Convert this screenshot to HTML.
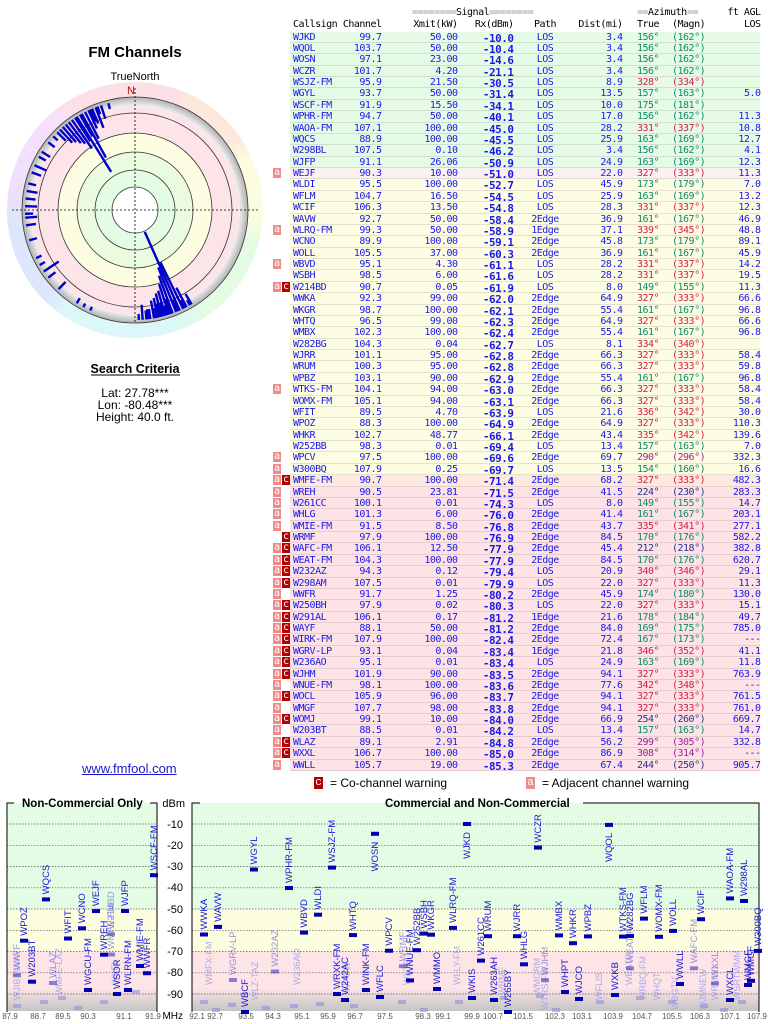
<!DOCTYPE html>
<html><head><meta charset="utf-8">
<style>
*{margin:0;padding:0;box-sizing:border-box}
body{width:768px;height:1024px;background:#fff;position:relative;overflow:hidden;font-family:"Liberation Sans",sans-serif}
.hd{position:absolute;left:290px;width:470px;height:12px;font:10px "DejaVu Sans Mono",monospace;letter-spacing:-0.5px;color:#000;line-height:12px}
.hd span,.r span{position:absolute;top:0;white-space:pre}
#tb{position:absolute;left:290px;top:31.5px;width:470px}
.r{position:relative;height:11.39px;line-height:11.39px;font:10px "DejaVu Sans Mono",monospace;letter-spacing:-0.5px;color:#1a1ae6;border-bottom:1px solid rgba(120,100,100,.18)}
.g{background:#e6fbe6}.y{background:#fdfde3}.o{background:#fde9df}.k{background:#fde3e6}.w{background:#fcf1f1}
.n{left:3px}.f{left:0;width:91.5px;text-align:right}.p{left:0;width:167.5px;text-align:right}
.x{left:0;width:223.5px;text-align:right;font-weight:bold;font-size:11px}.h{left:205px;width:100px;text-align:center}
.d{left:0;width:332.5px;text-align:right}.t{left:347px}.m{left:382px}.l{left:0;width:470.5px;text-align:right}
.G{color:#108868}.R{color:#d0204a}.P{color:#a0209a}.B{color:#303090}
.A,.C{width:8px;height:10px;top:0;color:#fff;text-align:center;line-height:10px;letter-spacing:0;font-size:10px}
.A{left:-17px;background:#f08a8a}.C{left:-8px;background:#b40000}
.gr{color:#999}
</style></head><body>

<div style="position:absolute;left:7px;top:82px;width:256px;height:256px;border-radius:50%;background:conic-gradient(#fde0e6 0deg,#fde0e6 20deg,#fde9dc 25deg,#fde9dc 55deg,#fcfce0 65deg,#fcfce0 95deg,#e4fce4 105deg,#e4fce4 145deg,#ddf8f0 155deg,#dcf6fa 165deg,#dcf6fa 215deg,#dde6fc 225deg,#dde6fc 265deg,#ece0fc 275deg,#f6e0fc 315deg,#fde0e6 335deg)"></div>

<svg style="position:absolute;left:0;top:0" width="290" height="440">
<text x="135" y="57" text-anchor="middle" font-family="Liberation Sans" font-weight="bold" font-size="15">FM Channels</text>
<text x="135" y="80" text-anchor="middle" font-family="Liberation Sans" font-size="11">TrueNorth</text>
<text x="127" y="94" font-family="Liberation Sans" font-size="11" fill="#d00000">N</text>
<defs><radialGradient id="rg" cx="135" cy="210" r="113" gradientUnits="userSpaceOnUse"><stop offset="0.92" stop-color="#f2f2f2"/><stop offset="1" stop-color="#b0b0b0"/></radialGradient></defs>
<circle cx="135" cy="210" r="113" fill="url(#rg)"/>
<circle cx="135" cy="210" r="104" fill="#fde4e8"/>
<circle cx="135" cy="210" r="77" fill="#fdfde2"/>
<circle cx="135" cy="210" r="58" fill="#eafbe0"/>
<circle cx="135" cy="210" r="40" fill="#e4fce4"/>
<circle cx="135" cy="210" r="23" fill="#fff"/>
<g fill="none" stroke="#333" stroke-width="0.8">
<circle cx="135" cy="210" r="23"/><circle cx="135" cy="210" r="40"/><circle cx="135" cy="210" r="58"/><circle cx="135" cy="210" r="77"/><circle cx="135" cy="210" r="97"/><circle cx="135" cy="210" r="113"/>
</g>
<g stroke="#000" stroke-width="0.8" stroke-dasharray="2,2">
<line x1="12" y1="210" x2="258" y2="210"/><line x1="135" y1="88" x2="135" y2="322"/>
</g>
<g transform="translate(135 210)" stroke="#0000c8" stroke-width="2.4">
<line y1="-110" y2="-24" transform="rotate(156)"/>
<line y1="-110" y2="-62" transform="rotate(158)"/>
<line y1="-110" y2="-70" transform="rotate(160)"/>
<line y1="-110" y2="-78" transform="rotate(162)"/>
<line y1="-110" y2="-45" transform="rotate(328)"/>
<line y1="-110" y2="-84" transform="rotate(164)"/>
<line y1="-110" y2="-95" transform="rotate(176)"/>
<line y1="-110" y2="-58" transform="rotate(154)"/>
<line y1="-110" y2="-60" transform="rotate(331)"/>
<line y1="-110" y2="-86" transform="rotate(166)"/>
<line y1="-110" y2="-88" transform="rotate(152)"/>
<line y1="-110" y2="-90" transform="rotate(168)"/>
<line y1="-110" y2="-75" transform="rotate(325)"/>
<line y1="-110" y2="-100" transform="rotate(173)"/>
<line y1="-110" y2="-92" transform="rotate(170)"/>
<line y1="-110" y2="-80" transform="rotate(333)"/>
<line y1="-110" y2="-94" transform="rotate(161)"/>
<line y1="-110" y2="-88" transform="rotate(339)"/>
<line y1="-110" y2="-100" transform="rotate(172)"/>
<line y1="-110" y2="-96" transform="rotate(165)"/>
<line y1="-110" y2="-85" transform="rotate(330)"/>
<line y1="-110" y2="-90" transform="rotate(335)"/>
<line y1="-110" y2="-98" transform="rotate(149)"/>
<line y1="-110" y2="-82" transform="rotate(327)"/>
<line y1="-110" y2="-96" transform="rotate(167)"/>
<line y1="-110" y2="-83" transform="rotate(323)"/>
<line y1="-110" y2="-100" transform="rotate(169)"/>
<line y1="-110" y2="-94" transform="rotate(337)"/>
<line y1="-110" y2="-86" transform="rotate(321)"/>
<line y1="-110" y2="-90" transform="rotate(319)"/>
<line y1="-110" y2="-96" transform="rotate(342)"/>
<line y1="-110" y2="-92" transform="rotate(317)"/>
<line y1="-110" y2="-97" transform="rotate(336)"/>
<line y1="-110" y2="-98" transform="rotate(157)"/>
<line y1="-110" y2="-100" transform="rotate(290)"/>
<line y1="-110" y2="-101" transform="rotate(153)"/>
<line y1="-110" y2="-98" transform="rotate(315)"/>
<line y1="-110" y2="-100" transform="rotate(224)"/>
<line y1="-110" y2="-104" transform="rotate(150)"/>
<line y1="-110" y2="-100" transform="rotate(163)"/>
<line y1="-110" y2="-101" transform="rotate(174)"/>
<line y1="-110" y2="-104" transform="rotate(212)"/>
<line y1="-110" y2="-102" transform="rotate(340)"/>
<line y1="-110" y2="-104" transform="rotate(178)"/>
<line y1="-110" y2="-104" transform="rotate(346)"/>
<line y1="-110" y2="-102" transform="rotate(254)"/>
<line y1="-110" y2="-102" transform="rotate(299)"/>
<line y1="-110" y2="-102" transform="rotate(308)"/>
<line y1="-110" y2="-104" transform="rotate(244)"/>
<line y1="-110" y2="-100" transform="rotate(262)"/>
<line y1="-110" y2="-98" transform="rotate(266)"/>
<line y1="-110" y2="-102" transform="rotate(268)"/>
<line y1="-110" y2="-98" transform="rotate(272)"/>
<line y1="-110" y2="-100" transform="rotate(276)"/>
<line y1="-110" y2="-99" transform="rotate(280)"/>
<line y1="-110" y2="-102" transform="rotate(284)"/>
<line y1="-110" y2="-97" transform="rotate(294)"/>
<line y1="-110" y2="-100" transform="rotate(302)"/>
<line y1="-110" y2="-104" transform="rotate(312)"/>
<line y1="-110" y2="-92" transform="rotate(236)"/>
<line y1="-110" y2="-101" transform="rotate(232)"/>
<line y1="-110" y2="-104" transform="rotate(240)"/>
<line y1="-110" y2="-106" transform="rotate(208)"/>
<line y1="-110" y2="-106" transform="rotate(204)"/>
</g>
<text x="135" y="373" text-anchor="middle" font-family="Liberation Sans" font-weight="bold" font-size="12.5">Search Criteria</text>
<line x1="91" y1="375" x2="180" y2="375" stroke="#000" stroke-width="1"/>
<g font-family="Liberation Sans" font-size="12" text-anchor="middle">
<text x="135" y="397">Lat: 27.78***</text>
<text x="135" y="409">Lon: -80.48***</text>
<text x="135" y="421">Height: 40.0 ft.</text>
</g>
</svg>

<div style="position:absolute;left:82px;top:761px;font-size:13px;color:#1a1acc;text-decoration:underline">www.fmfool.com</div>

<div class="hd" style="top:7px"><span class="gr" style="left:122px">========</span><span style="left:166px">Signal</span><span class="gr" style="left:199px">========</span><span class="gr" style="left:347px">==</span><span style="left:358px">Azimuth</span><span class="gr" style="left:397px">==</span><span class="l">ft AGL</span></div>
<div class="hd" style="top:19px"><span class="n">Callsign</span><span class="f">Channel</span><span class="p">Xmit(kW)</span><span class="x" style="font-weight:normal;font-size:10px">Rx(dBm)</span><span class="h">Path</span><span class="d">Dist(mi)</span><span class="t">True</span><span class="m">(Magn)</span><span class="l">LOS</span></div>

<div id="tb">
<div class="r g"><span class="n">WJKD</span><span class="f">99.7</span><span class="p">50.00</span><span class="x">-10.0</span><span class="h">LOS</span><span class="d">3.4</span><span class="t G">156°</span><span class="m G">(162°)</span></div>
<div class="r g"><span class="n">WQOL</span><span class="f">103.7</span><span class="p">50.00</span><span class="x">-10.4</span><span class="h">LOS</span><span class="d">3.4</span><span class="t G">156°</span><span class="m G">(162°)</span></div>
<div class="r g"><span class="n">WOSN</span><span class="f">97.1</span><span class="p">23.00</span><span class="x">-14.6</span><span class="h">LOS</span><span class="d">3.4</span><span class="t G">156°</span><span class="m G">(162°)</span></div>
<div class="r g"><span class="n">WCZR</span><span class="f">101.7</span><span class="p">4.20</span><span class="x">-21.1</span><span class="h">LOS</span><span class="d">3.4</span><span class="t G">156°</span><span class="m G">(162°)</span></div>
<div class="r g"><span class="n">WSJZ-FM</span><span class="f">95.9</span><span class="p">21.50</span><span class="x">-30.5</span><span class="h">LOS</span><span class="d">8.9</span><span class="t R">328°</span><span class="m R">(334°)</span></div>
<div class="r g"><span class="n">WGYL</span><span class="f">93.7</span><span class="p">50.00</span><span class="x">-31.4</span><span class="h">LOS</span><span class="d">13.5</span><span class="t G">157°</span><span class="m G">(163°)</span><span class="l">5.0</span></div>
<div class="r g"><span class="n">WSCF-FM</span><span class="f">91.9</span><span class="p">15.50</span><span class="x">-34.1</span><span class="h">LOS</span><span class="d">10.0</span><span class="t G">175°</span><span class="m G">(181°)</span></div>
<div class="r g"><span class="n">WPHR-FM</span><span class="f">94.7</span><span class="p">50.00</span><span class="x">-40.1</span><span class="h">LOS</span><span class="d">17.0</span><span class="t G">156°</span><span class="m G">(162°)</span><span class="l">11.3</span></div>
<div class="r g"><span class="n">WAOA-FM</span><span class="f">107.1</span><span class="p">100.00</span><span class="x">-45.0</span><span class="h">LOS</span><span class="d">28.2</span><span class="t R">331°</span><span class="m R">(337°)</span><span class="l">10.8</span></div>
<div class="r g"><span class="n">WQCS</span><span class="f">88.9</span><span class="p">100.00</span><span class="x">-45.5</span><span class="h">LOS</span><span class="d">25.9</span><span class="t G">163°</span><span class="m G">(169°)</span><span class="l">12.7</span></div>
<div class="r g"><span class="n">W298BL</span><span class="f">107.5</span><span class="p">0.10</span><span class="x">-46.2</span><span class="h">LOS</span><span class="d">3.4</span><span class="t G">156°</span><span class="m G">(162°)</span><span class="l">4.1</span></div>
<div class="r g"><span class="n">WJFP</span><span class="f">91.1</span><span class="p">26.06</span><span class="x">-50.9</span><span class="h">LOS</span><span class="d">24.9</span><span class="t G">163°</span><span class="m G">(169°)</span><span class="l">12.3</span></div>
<div class="r w"><span class="A">a</span><span class="n">WEJF</span><span class="f">90.3</span><span class="p">10.00</span><span class="x">-51.0</span><span class="h">LOS</span><span class="d">22.0</span><span class="t R">327°</span><span class="m R">(333°)</span><span class="l">11.3</span></div>
<div class="r y"><span class="n">WLDI</span><span class="f">95.5</span><span class="p">100.00</span><span class="x">-52.7</span><span class="h">LOS</span><span class="d">45.9</span><span class="t G">173°</span><span class="m G">(179°)</span><span class="l">7.0</span></div>
<div class="r y"><span class="n">WFLM</span><span class="f">104.7</span><span class="p">16.50</span><span class="x">-54.5</span><span class="h">LOS</span><span class="d">25.9</span><span class="t G">163°</span><span class="m G">(169°)</span><span class="l">13.2</span></div>
<div class="r y"><span class="n">WCIF</span><span class="f">106.3</span><span class="p">13.50</span><span class="x">-54.8</span><span class="h">LOS</span><span class="d">28.3</span><span class="t R">331°</span><span class="m R">(337°)</span><span class="l">12.3</span></div>
<div class="r y"><span class="n">WAVW</span><span class="f">92.7</span><span class="p">50.00</span><span class="x">-58.4</span><span class="h">2Edge</span><span class="d">36.9</span><span class="t G">161°</span><span class="m G">(167°)</span><span class="l">46.9</span></div>
<div class="r y"><span class="A">a</span><span class="n">WLRQ-FM</span><span class="f">99.3</span><span class="p">50.00</span><span class="x">-58.9</span><span class="h">1Edge</span><span class="d">37.1</span><span class="t R">339°</span><span class="m R">(345°)</span><span class="l">48.8</span></div>
<div class="r y"><span class="n">WCNO</span><span class="f">89.9</span><span class="p">100.00</span><span class="x">-59.1</span><span class="h">2Edge</span><span class="d">45.8</span><span class="t G">173°</span><span class="m G">(179°)</span><span class="l">89.1</span></div>
<div class="r y"><span class="n">WOLL</span><span class="f">105.5</span><span class="p">37.00</span><span class="x">-60.3</span><span class="h">2Edge</span><span class="d">36.9</span><span class="t G">161°</span><span class="m G">(167°)</span><span class="l">45.9</span></div>
<div class="r y"><span class="A">a</span><span class="n">WBVD</span><span class="f">95.1</span><span class="p">4.30</span><span class="x">-61.1</span><span class="h">LOS</span><span class="d">28.2</span><span class="t R">331°</span><span class="m R">(337°)</span><span class="l">14.2</span></div>
<div class="r y"><span class="n">WSBH</span><span class="f">98.5</span><span class="p">6.00</span><span class="x">-61.6</span><span class="h">LOS</span><span class="d">28.2</span><span class="t R">331°</span><span class="m R">(337°)</span><span class="l">19.5</span></div>
<div class="r y"><span class="A">a</span><span class="C">c</span><span class="n">W214BD</span><span class="f">90.7</span><span class="p">0.05</span><span class="x">-61.9</span><span class="h">LOS</span><span class="d">8.0</span><span class="t G">149°</span><span class="m G">(155°)</span><span class="l">11.3</span></div>
<div class="r y"><span class="n">WWKA</span><span class="f">92.3</span><span class="p">99.00</span><span class="x">-62.0</span><span class="h">2Edge</span><span class="d">64.9</span><span class="t R">327°</span><span class="m R">(333°)</span><span class="l">66.6</span></div>
<div class="r y"><span class="n">WKGR</span><span class="f">98.7</span><span class="p">100.00</span><span class="x">-62.1</span><span class="h">2Edge</span><span class="d">55.4</span><span class="t G">161°</span><span class="m G">(167°)</span><span class="l">96.8</span></div>
<div class="r y"><span class="n">WHTQ</span><span class="f">96.5</span><span class="p">99.00</span><span class="x">-62.3</span><span class="h">2Edge</span><span class="d">64.9</span><span class="t R">327°</span><span class="m R">(333°)</span><span class="l">66.6</span></div>
<div class="r y"><span class="n">WMBX</span><span class="f">102.3</span><span class="p">100.00</span><span class="x">-62.4</span><span class="h">2Edge</span><span class="d">55.4</span><span class="t G">161°</span><span class="m G">(167°)</span><span class="l">96.8</span></div>
<div class="r y"><span class="n">W282BG</span><span class="f">104.3</span><span class="p">0.04</span><span class="x">-62.7</span><span class="h">LOS</span><span class="d">8.1</span><span class="t R">334°</span><span class="m R">(340°)</span></div>
<div class="r y"><span class="n">WJRR</span><span class="f">101.1</span><span class="p">95.00</span><span class="x">-62.8</span><span class="h">2Edge</span><span class="d">66.3</span><span class="t R">327°</span><span class="m R">(333°)</span><span class="l">58.4</span></div>
<div class="r y"><span class="n">WRUM</span><span class="f">100.3</span><span class="p">95.00</span><span class="x">-62.8</span><span class="h">2Edge</span><span class="d">66.3</span><span class="t R">327°</span><span class="m R">(333°)</span><span class="l">59.8</span></div>
<div class="r y"><span class="n">WPBZ</span><span class="f">103.1</span><span class="p">90.00</span><span class="x">-62.9</span><span class="h">2Edge</span><span class="d">55.4</span><span class="t G">161°</span><span class="m G">(167°)</span><span class="l">96.8</span></div>
<div class="r y"><span class="A">a</span><span class="n">WTKS-FM</span><span class="f">104.1</span><span class="p">94.00</span><span class="x">-63.0</span><span class="h">2Edge</span><span class="d">66.3</span><span class="t R">327°</span><span class="m R">(333°)</span><span class="l">58.4</span></div>
<div class="r y"><span class="n">WOMX-FM</span><span class="f">105.1</span><span class="p">94.00</span><span class="x">-63.1</span><span class="h">2Edge</span><span class="d">66.3</span><span class="t R">327°</span><span class="m R">(333°)</span><span class="l">58.4</span></div>
<div class="r y"><span class="n">WFIT</span><span class="f">89.5</span><span class="p">4.70</span><span class="x">-63.9</span><span class="h">LOS</span><span class="d">21.6</span><span class="t R">336°</span><span class="m R">(342°)</span><span class="l">30.0</span></div>
<div class="r y"><span class="n">WPOZ</span><span class="f">88.3</span><span class="p">100.00</span><span class="x">-64.9</span><span class="h">2Edge</span><span class="d">64.9</span><span class="t R">327°</span><span class="m R">(333°)</span><span class="l">110.3</span></div>
<div class="r y"><span class="n">WHKR</span><span class="f">102.7</span><span class="p">48.77</span><span class="x">-66.1</span><span class="h">2Edge</span><span class="d">43.4</span><span class="t R">335°</span><span class="m R">(342°)</span><span class="l">139.6</span></div>
<div class="r y"><span class="n">W252BB</span><span class="f">98.3</span><span class="p">0.01</span><span class="x">-69.4</span><span class="h">LOS</span><span class="d">13.4</span><span class="t G">157°</span><span class="m G">(163°)</span><span class="l">7.0</span></div>
<div class="r y"><span class="A">a</span><span class="n">WPCV</span><span class="f">97.5</span><span class="p">100.00</span><span class="x">-69.6</span><span class="h">2Edge</span><span class="d">69.7</span><span class="t P">290°</span><span class="m P">(296°)</span><span class="l">332.3</span></div>
<div class="r y"><span class="A">a</span><span class="n">W300BQ</span><span class="f">107.9</span><span class="p">0.25</span><span class="x">-69.7</span><span class="h">LOS</span><span class="d">13.5</span><span class="t G">154°</span><span class="m G">(160°)</span><span class="l">16.6</span></div>
<div class="r o"><span class="A">a</span><span class="C">c</span><span class="n">WMFE-FM</span><span class="f">90.7</span><span class="p">100.00</span><span class="x">-71.4</span><span class="h">2Edge</span><span class="d">68.2</span><span class="t R">327°</span><span class="m R">(333°)</span><span class="l">482.3</span></div>
<div class="r k"><span class="A">a</span><span class="n">WREH</span><span class="f">90.5</span><span class="p">23.81</span><span class="x">-71.5</span><span class="h">2Edge</span><span class="d">41.5</span><span class="t B">224°</span><span class="m B">(230°)</span><span class="l">283.3</span></div>
<div class="r k"><span class="A">a</span><span class="n">W261CC</span><span class="f">100.1</span><span class="p">0.01</span><span class="x">-74.3</span><span class="h">LOS</span><span class="d">8.0</span><span class="t G">149°</span><span class="m G">(155°)</span><span class="l">14.7</span></div>
<div class="r k"><span class="A">a</span><span class="n">WHLG</span><span class="f">101.3</span><span class="p">6.00</span><span class="x">-76.0</span><span class="h">2Edge</span><span class="d">41.4</span><span class="t G">161°</span><span class="m G">(167°)</span><span class="l">203.1</span></div>
<div class="r k"><span class="A">a</span><span class="n">WMIE-FM</span><span class="f">91.5</span><span class="p">8.50</span><span class="x">-76.8</span><span class="h">2Edge</span><span class="d">43.7</span><span class="t R">335°</span><span class="m R">(341°)</span><span class="l">277.1</span></div>
<div class="r k"><span class="C">c</span><span class="n">WRMF</span><span class="f">97.9</span><span class="p">100.00</span><span class="x">-76.9</span><span class="h">2Edge</span><span class="d">84.5</span><span class="t G">170°</span><span class="m G">(176°)</span><span class="l">582.2</span></div>
<div class="r k"><span class="A">a</span><span class="C">c</span><span class="n">WAFC-FM</span><span class="f">106.1</span><span class="p">12.50</span><span class="x">-77.9</span><span class="h">2Edge</span><span class="d">45.4</span><span class="t B">212°</span><span class="m B">(218°)</span><span class="l">382.8</span></div>
<div class="r k"><span class="A">a</span><span class="C">c</span><span class="n">WEAT-FM</span><span class="f">104.3</span><span class="p">100.00</span><span class="x">-77.9</span><span class="h">2Edge</span><span class="d">84.5</span><span class="t G">170°</span><span class="m G">(176°)</span><span class="l">620.7</span></div>
<div class="r k"><span class="A">a</span><span class="C">c</span><span class="n">W232AZ</span><span class="f">94.3</span><span class="p">0.12</span><span class="x">-79.4</span><span class="h">LOS</span><span class="d">20.9</span><span class="t R">340°</span><span class="m R">(346°)</span><span class="l">29.1</span></div>
<div class="r k"><span class="A">a</span><span class="C">c</span><span class="n">W298AM</span><span class="f">107.5</span><span class="p">0.01</span><span class="x">-79.9</span><span class="h">LOS</span><span class="d">22.0</span><span class="t R">327°</span><span class="m R">(333°)</span><span class="l">11.3</span></div>
<div class="r k"><span class="A">a</span><span class="n">WWFR</span><span class="f">91.7</span><span class="p">1.25</span><span class="x">-80.2</span><span class="h">2Edge</span><span class="d">45.9</span><span class="t G">174°</span><span class="m G">(180°)</span><span class="l">130.0</span></div>
<div class="r k"><span class="A">a</span><span class="C">c</span><span class="n">W250BH</span><span class="f">97.9</span><span class="p">0.02</span><span class="x">-80.3</span><span class="h">LOS</span><span class="d">22.0</span><span class="t R">327°</span><span class="m R">(333°)</span><span class="l">15.1</span></div>
<div class="r k"><span class="A">a</span><span class="C">c</span><span class="n">W291AL</span><span class="f">106.1</span><span class="p">0.17</span><span class="x">-81.2</span><span class="h">1Edge</span><span class="d">21.6</span><span class="t G">178°</span><span class="m G">(184°)</span><span class="l">49.7</span></div>
<div class="r k"><span class="A">a</span><span class="C">c</span><span class="n">WAYF</span><span class="f">88.1</span><span class="p">50.00</span><span class="x">-81.2</span><span class="h">2Edge</span><span class="d">84.0</span><span class="t G">169°</span><span class="m G">(175°)</span><span class="l">785.0</span></div>
<div class="r k"><span class="A">a</span><span class="C">c</span><span class="n">WIRK-FM</span><span class="f">107.9</span><span class="p">100.00</span><span class="x">-82.4</span><span class="h">2Edge</span><span class="d">72.4</span><span class="t G">167°</span><span class="m G">(173°)</span><span class="l">---</span></div>
<div class="r k"><span class="A">a</span><span class="C">c</span><span class="n">WGRV-LP</span><span class="f">93.1</span><span class="p">0.04</span><span class="x">-83.4</span><span class="h">1Edge</span><span class="d">21.8</span><span class="t R">346°</span><span class="m R">(352°)</span><span class="l">41.1</span></div>
<div class="r k"><span class="A">a</span><span class="C">c</span><span class="n">W236AO</span><span class="f">95.1</span><span class="p">0.01</span><span class="x">-83.4</span><span class="h">LOS</span><span class="d">24.9</span><span class="t G">163°</span><span class="m G">(169°)</span><span class="l">11.8</span></div>
<div class="r k"><span class="A">a</span><span class="C">c</span><span class="n">WJHM</span><span class="f">101.9</span><span class="p">90.00</span><span class="x">-83.5</span><span class="h">2Edge</span><span class="d">94.1</span><span class="t R">327°</span><span class="m R">(333°)</span><span class="l">763.9</span></div>
<div class="r k"><span class="A">a</span><span class="n">WNUE-FM</span><span class="f">98.1</span><span class="p">100.00</span><span class="x">-83.6</span><span class="h">2Edge</span><span class="d">77.6</span><span class="t R">342°</span><span class="m R">(348°)</span><span class="l">---</span></div>
<div class="r k"><span class="A">a</span><span class="C">c</span><span class="n">WOCL</span><span class="f">105.9</span><span class="p">96.00</span><span class="x">-83.7</span><span class="h">2Edge</span><span class="d">94.1</span><span class="t R">327°</span><span class="m R">(333°)</span><span class="l">761.5</span></div>
<div class="r k"><span class="A">a</span><span class="n">WMGF</span><span class="f">107.7</span><span class="p">98.00</span><span class="x">-83.8</span><span class="h">2Edge</span><span class="d">94.1</span><span class="t R">327°</span><span class="m R">(333°)</span><span class="l">761.0</span></div>
<div class="r k"><span class="A">a</span><span class="C">c</span><span class="n">WOMJ</span><span class="f">99.1</span><span class="p">10.00</span><span class="x">-84.0</span><span class="h">2Edge</span><span class="d">66.9</span><span class="t B">254°</span><span class="m B">(260°)</span><span class="l">669.7</span></div>
<div class="r k"><span class="A">a</span><span class="n">W203BT</span><span class="f">88.5</span><span class="p">0.01</span><span class="x">-84.2</span><span class="h">LOS</span><span class="d">13.4</span><span class="t G">157°</span><span class="m G">(163°)</span><span class="l">14.7</span></div>
<div class="r k"><span class="A">a</span><span class="C">c</span><span class="n">WLAZ</span><span class="f">89.1</span><span class="p">2.91</span><span class="x">-84.8</span><span class="h">2Edge</span><span class="d">56.2</span><span class="t P">299°</span><span class="m P">(305°)</span><span class="l">332.8</span></div>
<div class="r k"><span class="A">a</span><span class="C">c</span><span class="n">WXXL</span><span class="f">106.7</span><span class="p">100.00</span><span class="x">-85.0</span><span class="h">2Edge</span><span class="d">86.9</span><span class="t P">308°</span><span class="m P">(314°)</span><span class="l">---</span></div>
<div class="r k"><span class="A">a</span><span class="n">WWLL</span><span class="f">105.7</span><span class="p">19.00</span><span class="x">-85.3</span><span class="h">2Edge</span><span class="d">67.4</span><span class="t B">244°</span><span class="m B">(250°)</span><span class="l">905.7</span></div>
</div>

<div style="position:absolute;left:314px;top:777px;width:9px;height:12px;background:#b40000;color:#fff;font:11px 'Liberation Mono',monospace;text-align:center;line-height:12px">c</div>
<div style="position:absolute;left:330px;top:776px;font-size:12px">= Co-channel warning</div>
<div style="position:absolute;left:526px;top:777px;width:9px;height:12px;background:#f08a8a;color:#fff;font:11px 'Liberation Mono',monospace;text-align:center;line-height:12px">a</div>
<div style="position:absolute;left:542px;top:776px;font-size:12px">= Adjacent channel warning</div>

<svg style="position:absolute;left:0;top:0" width="768" height="1024">
<defs><linearGradient id="gg" x1="0" y1="0" x2="0" y2="1"><stop offset="0" stop-color="#fde4e6"/><stop offset="1" stop-color="#c4c4c4"/></linearGradient></defs>
<g>
<rect x="7" y="803" width="150" height="106" fill="#e4fce4"/>
<rect x="7" y="909" width="150" height="43" fill="#fdfde0"/>
<rect x="7" y="952" width="150" height="36" fill="#fde4e6"/>
<rect x="7" y="988" width="150" height="23" fill="url(#gg)"/>
<rect x="192" y="803" width="567" height="106" fill="#e4fce4"/>
<rect x="192" y="909" width="567" height="43" fill="#fdfde0"/>
<rect x="192" y="952" width="567" height="36" fill="#fde4e6"/>
<rect x="192" y="988" width="567" height="23" fill="url(#gg)"/>
</g>
<g stroke="#555" stroke-width="0.7" stroke-dasharray="1.5,1.5">
<path d="M7 824H157M7 845.3H157M7 866.5H157M7 887.8H157M7 909H157M7 930.3H157M7 951.5H157M7 972.8H157M7 994H157"/>
<path d="M192 824H759M192 845.3H759M192 866.5H759M192 887.8H759M192 909H759M192 930.3H759M192 951.5H759M192 972.8H759M192 994H759"/>
</g>
<g stroke="#000" stroke-width="1" fill="none">
<path d="M7 1012V803H14M150 803H157V1012"/>
<path d="M192 1012V803H200M583 803H759V1012"/>
</g>
<g font-family="Liberation Sans" font-weight="bold" font-size="11.5">
<text x="22" y="807">Non-Commercial Only</text>
<text x="385" y="807">Commercial and Non-Commercial</text>
</g>
<g font-family="Liberation Sans" font-size="11" text-anchor="end">
<text x="185" y="807">dBm</text>
<text x="183" y="828">-10</text><text x="183" y="849">-20</text><text x="183" y="870">-30</text><text x="183" y="891">-40</text><text x="183" y="913">-50</text><text x="183" y="934">-60</text><text x="183" y="955">-70</text><text x="183" y="976">-80</text><text x="183" y="998">-90</text>
<text x="183" y="1019" font-size="10">MHz</text>
</g>
<line x1="0" y1="1016" x2="162" y2="1016" stroke="#000" stroke-width="0.8"/>
<line x1="188" y1="1016" x2="768" y2="1016" stroke="#000" stroke-width="0.8"/>
<g font-family="Liberation Sans" font-size="8" fill="#555" text-anchor="middle">
<rect x="0" y="1012" width="162" height="8" fill="#fff"/><rect x="188" y="1012" width="580" height="8" fill="#fff"/>
<text x="10" y="1019">87.9</text><text x="38" y="1019">88.7</text><text x="63" y="1019">89.5</text><text x="88" y="1019">90.3</text><text x="124" y="1019">91.1</text><text x="153" y="1019">91.9</text>
<text x="197" y="1019">92.1</text><text x="215" y="1019">92.7</text><text x="246" y="1019">93.5</text><text x="273" y="1019">94.3</text><text x="302" y="1019">95.1</text><text x="328" y="1019">95.9</text><text x="355" y="1019">96.7</text><text x="385" y="1019">97.5</text><text x="423" y="1019">98.3</text><text x="443" y="1019">99.1</text><text x="472" y="1019">99.9</text><text x="493" y="1019">100.7</text><text x="523" y="1019">101.5</text><text x="555" y="1019">102.3</text><text x="582" y="1019">103.1</text><text x="613" y="1019">103.9</text><text x="642" y="1019">104.7</text><text x="672" y="1019">105.5</text><text x="700" y="1019">106.3</text><text x="730" y="1019">107.1</text><text x="757" y="1019">107.9</text>
</g>

<g fill="#8a8ae0" opacity="0.55">
<rect x="13" y="1004" width="8" height="4"/><rect x="40" y="1000" width="8" height="4"/><rect x="58" y="996" width="8" height="4"/><rect x="74" y="1006" width="8" height="4"/><rect x="100" y="1000" width="8" height="4"/><rect x="132" y="990" width="8" height="4"/>
<rect x="200" y="1000" width="8" height="4"/><rect x="212" y="1008" width="8" height="4"/><rect x="228" y="1003" width="8" height="4"/><rect x="262" y="1006" width="8" height="4"/><rect x="290" y="1004" width="8" height="4"/><rect x="316" y="1002" width="8" height="4"/><rect x="350" y="1004" width="8" height="4"/><rect x="398" y="1000" width="8" height="4"/><rect x="420" y="1008" width="8" height="4"/><rect x="455" y="1000" width="8" height="4"/><rect x="500" y="996" width="8" height="4"/><rect x="536" y="994" width="8" height="4"/><rect x="552" y="1008" width="8" height="4"/><rect x="596" y="1000" width="8" height="4"/><rect x="636" y="996" width="8" height="4"/><rect x="668" y="1000" width="8" height="4"/><rect x="700" y="1004" width="8" height="4"/><rect x="720" y="1008" width="8" height="4"/><rect x="738" y="1000" width="8" height="4"/>
</g>
<g font-family="Liberation Sans" font-size="9" fill="#9a9aee" opacity="0.8">
<text transform="translate(20 1000) rotate(-90)">WJIB WAYF</text>
<text transform="translate(62 995) rotate(-90)">WMFE-LAZ</text>
<text transform="translate(118 985) rotate(-90)">WXEL</text>
<text transform="translate(212 985) rotate(-90)">WMFX-FM</text>
<text transform="translate(258 1000) rotate(-90)">WLZ-TAZ</text>
<text transform="translate(300 985) rotate(-90)">W236AO</text>
<text transform="translate(350 992) rotate(-90)">WPOW</text>
<text transform="translate(410 985) rotate(-90)">WXTB</text>
<text transform="translate(460 985) rotate(-90)">WLLY-FM</text>
<text transform="translate(505 995) rotate(-90)">WRMF</text>
<text transform="translate(540 995) rotate(-90)">WMGRM</text>
<text transform="translate(548 1010) rotate(-90)">WTRS-FM</text>
<text transform="translate(602 1000) rotate(-90)">WFLIS</text>
<text transform="translate(632 985) rotate(-90)">WEATF</text>
<text transform="translate(646 1000) rotate(-90)">WRBQ-FM</text>
<text transform="translate(660 1000) rotate(-90)">WHQT</text>
<text transform="translate(678 1010) rotate(-90)">WBGTV</text>
<text transform="translate(706 1010) rotate(-90)">WJMNEW</text>
<text transform="translate(718 1000) rotate(-90)">WRMIXL</text>
<text transform="translate(740 1000) rotate(-90)">WSRTWMM</text>
</g>

<g font-family="Liberation Sans" font-size="9.5" fill="#1515d8">
<g transform="translate(46 899.4)"><rect x="-4" y="-2" width="8" height="4" fill="#0000b0"/><text transform="rotate(-90)" x="5" y="3">WQCS</text></g>
<g transform="translate(125 911)"><rect x="-4" y="-2" width="8" height="4" fill="#0000b0"/><text transform="rotate(-90)" x="5" y="3">WJFP</text></g>
<g transform="translate(96 911.1)"><rect x="-4" y="-2" width="8" height="4" fill="#0000b0"/><text transform="rotate(-90)" x="5" y="3">WEJF</text></g>
<g transform="translate(82 928.3)"><rect x="-4" y="-2" width="8" height="4" fill="#0000b0"/><text transform="rotate(-90)" x="5" y="3">WCNO</text></g>
<g transform="translate(111 934.3)" opacity="0.45"><rect x="-4" y="-2" width="8" height="4" fill="#0000b0"/><text transform="rotate(-90)" x="5" y="3">W214BD</text></g>
<g transform="translate(68 938.5)"><rect x="-4" y="-2" width="8" height="4" fill="#0000b0"/><text transform="rotate(-90)" x="5" y="3">WFIT</text></g>
<g transform="translate(24 940.7)"><rect x="-4" y="-2" width="8" height="4" fill="#0000b0"/><text transform="rotate(-90)" x="5" y="3">WPOZ</text></g>
<g transform="translate(111 954.5)" opacity="0.45"><rect x="-4" y="-2" width="8" height="4" fill="#0000b0"/><text transform="rotate(-90)" x="5" y="3">WMFE-FM</text></g>
<g transform="translate(104 954.7)"><rect x="-4" y="-2" width="8" height="4" fill="#0000b0"/><text transform="rotate(-90)" x="5" y="3">WREH</text></g>
<g transform="translate(140 966)"><rect x="-4" y="-2" width="8" height="4" fill="#0000b0"/><text transform="rotate(-90)" x="5" y="3">WMIE-FM</text></g>
<g transform="translate(147 973.2)"><rect x="-4" y="-2" width="8" height="4" fill="#0000b0"/><text transform="rotate(-90)" x="5" y="3">WWFR</text></g>
<g transform="translate(32 981.7)"><rect x="-4" y="-2" width="8" height="4" fill="#0000b0"/><text transform="rotate(-90)" x="5" y="3">W203BT</text></g>
<g transform="translate(154 875.2)"><rect x="-4" y="-2" width="8" height="4" fill="#0000b0"/><text transform="rotate(-90)" x="5" y="3">WSCF-FM</text></g>
<g transform="translate(117 994)"><rect x="-4" y="-2" width="8" height="4" fill="#0000b0"/><text transform="rotate(-90)" x="5" y="3">WSOR</text></g>
<g transform="translate(128 990)"><rect x="-4" y="-2" width="8" height="4" fill="#0000b0"/><text transform="rotate(-90)" x="5" y="3">WLRN-FM</text></g>
<g transform="translate(88 990)"><rect x="-4" y="-2" width="8" height="4" fill="#0000b0"/><text transform="rotate(-90)" x="5" y="3">WGCU-FM</text></g>

<g transform="translate(467 824)"><rect x="-4" y="-2" width="8" height="4" fill="#0000b0"/><text transform="rotate(-90)" x="-8" y="3" text-anchor="end">WJKD</text></g>
<g transform="translate(609 824.9)"><rect x="-4" y="-2" width="8" height="4" fill="#0000b0"/><text transform="rotate(-90)" x="-8" y="3" text-anchor="end">WQOL</text></g>
<g transform="translate(375 833.8)"><rect x="-4" y="-2" width="8" height="4" fill="#0000b0"/><text transform="rotate(-90)" x="-8" y="3" text-anchor="end">WOSN</text></g>
<g transform="translate(538 847.6)"><rect x="-4" y="-2" width="8" height="4" fill="#0000b0"/><text transform="rotate(-90)" x="5" y="3">WCZR</text></g>
<g transform="translate(332 867.6)"><rect x="-4" y="-2" width="8" height="4" fill="#0000b0"/><text transform="rotate(-90)" x="5" y="3">WSJZ-FM</text></g>
<g transform="translate(254 869.5)"><rect x="-4" y="-2" width="8" height="4" fill="#0000b0"/><text transform="rotate(-90)" x="5" y="3">WGYL</text></g>
<g transform="translate(289 888)"><rect x="-4" y="-2" width="8" height="4" fill="#0000b0"/><text transform="rotate(-90)" x="5" y="3">WPHR-FM</text></g>
<g transform="translate(730 898.4)"><rect x="-4" y="-2" width="8" height="4" fill="#0000b0"/><text transform="rotate(-90)" x="5" y="3">WAOA-FM</text></g>
<g transform="translate(744 901)"><rect x="-4" y="-2" width="8" height="4" fill="#0000b0"/><text transform="rotate(-90)" x="5" y="3">W298AL</text></g>
<g transform="translate(318 914.7)"><rect x="-4" y="-2" width="8" height="4" fill="#0000b0"/><text transform="rotate(-90)" x="5" y="3">WLDI</text></g>
<g transform="translate(644 918.6)"><rect x="-4" y="-2" width="8" height="4" fill="#0000b0"/><text transform="rotate(-90)" x="5" y="3">WFLM</text></g>
<g transform="translate(701 919.2)"><rect x="-4" y="-2" width="8" height="4" fill="#0000b0"/><text transform="rotate(-90)" x="5" y="3">WCIF</text></g>
<g transform="translate(218 926.9)"><rect x="-4" y="-2" width="8" height="4" fill="#0000b0"/><text transform="rotate(-90)" x="5" y="3">WAVW</text></g>
<g transform="translate(453 927.9)"><rect x="-4" y="-2" width="8" height="4" fill="#0000b0"/><text transform="rotate(-90)" x="5" y="3">WLRQ-FM</text></g>
<g transform="translate(673 930.9)"><rect x="-4" y="-2" width="8" height="4" fill="#0000b0"/><text transform="rotate(-90)" x="5" y="3">WOLL</text></g>
<g transform="translate(304 932.6)"><rect x="-4" y="-2" width="8" height="4" fill="#0000b0"/><text transform="rotate(-90)" x="5" y="3">WBVD</text></g>
<g transform="translate(424 933.6)"><rect x="-4" y="-2" width="8" height="4" fill="#0000b0"/><text transform="rotate(-90)" x="5" y="3">WSBH</text></g>
<g transform="translate(204 934.5)"><rect x="-4" y="-2" width="8" height="4" fill="#0000b0"/><text transform="rotate(-90)" x="5" y="3">WWKA</text></g>
<g transform="translate(431 934.7)"><rect x="-4" y="-2" width="8" height="4" fill="#0000b0"/><text transform="rotate(-90)" x="5" y="3">WKGR</text></g>
<g transform="translate(353 935.1)"><rect x="-4" y="-2" width="8" height="4" fill="#0000b0"/><text transform="rotate(-90)" x="5" y="3">WHTQ</text></g>
<g transform="translate(559 935.4)"><rect x="-4" y="-2" width="8" height="4" fill="#0000b0"/><text transform="rotate(-90)" x="5" y="3">WMBX</text></g>
<g transform="translate(630 936)"><rect x="-4" y="-2" width="8" height="4" fill="#0000b0"/><text transform="rotate(-90)" x="5" y="3">W282BG</text></g>
<g transform="translate(517 936.2)"><rect x="-4" y="-2" width="8" height="4" fill="#0000b0"/><text transform="rotate(-90)" x="5" y="3">WJRR</text></g>
<g transform="translate(488 936.2)"><rect x="-4" y="-2" width="8" height="4" fill="#0000b0"/><text transform="rotate(-90)" x="5" y="3">WRUM</text></g>
<g transform="translate(588 936.4)"><rect x="-4" y="-2" width="8" height="4" fill="#0000b0"/><text transform="rotate(-90)" x="5" y="3">WPBZ</text></g>
<g transform="translate(623 936.6)"><rect x="-4" y="-2" width="8" height="4" fill="#0000b0"/><text transform="rotate(-90)" x="5" y="3">WTKS-FM</text></g>
<g transform="translate(659 936.8)"><rect x="-4" y="-2" width="8" height="4" fill="#0000b0"/><text transform="rotate(-90)" x="5" y="3">WOMX-FM</text></g>
<g transform="translate(573 943.2)"><rect x="-4" y="-2" width="8" height="4" fill="#0000b0"/><text transform="rotate(-90)" x="5" y="3">WHKR</text></g>
<g transform="translate(417 950.2)"><rect x="-4" y="-2" width="8" height="4" fill="#0000b0"/><text transform="rotate(-90)" x="5" y="3">W252BB</text></g>
<g transform="translate(389 950.7)"><rect x="-4" y="-2" width="8" height="4" fill="#0000b0"/><text transform="rotate(-90)" x="5" y="3">WPCV</text></g>
<g transform="translate(758 950.9)"><rect x="-4" y="-2" width="8" height="4" fill="#0000b0"/><text transform="rotate(-90)" x="5" y="3">W300BQ</text></g>
<g transform="translate(481 960.6)"><rect x="-4" y="-2" width="8" height="4" fill="#0000b0"/><text transform="rotate(-90)" x="5" y="3">W261CC</text></g>
<g transform="translate(524 964.3)"><rect x="-4" y="-2" width="8" height="4" fill="#0000b0"/><text transform="rotate(-90)" x="5" y="3">WHLG</text></g>
<g transform="translate(410 980.4)"><rect x="-4" y="-2" width="8" height="4" fill="#0000b0"/><text transform="rotate(-90)" x="5" y="3">WNUE-FM</text></g>
<g transform="translate(680 984)"><rect x="-4" y="-2" width="8" height="4" fill="#0000b0"/><text transform="rotate(-90)" x="5" y="3">WWLL</text></g>
<g transform="translate(751 980.8)"><rect x="-4" y="-2" width="8" height="4" fill="#0000b0"/><text transform="rotate(-90)" x="5" y="3">WMGF</text></g>
<g transform="translate(366 990)"><rect x="-4" y="-2" width="8" height="4" fill="#0000b0"/><text transform="rotate(-90)" x="5" y="3">WINK-FM</text></g>
<g transform="translate(380 997)"><rect x="-4" y="-2" width="8" height="4" fill="#0000b0"/><text transform="rotate(-90)" x="5" y="3">WFLC</text></g>
<g transform="translate(337 994)"><rect x="-4" y="-2" width="8" height="4" fill="#0000b0"/><text transform="rotate(-90)" x="5" y="3">WRXK-FM</text></g>
<g transform="translate(345 1000)"><rect x="-4" y="-2" width="8" height="4" fill="#0000b0"/><text transform="rotate(-90)" x="5" y="3">W242AC</text></g>
<g transform="translate(472 998)"><rect x="-4" y="-2" width="8" height="4" fill="#0000b0"/><text transform="rotate(-90)" x="5" y="3">WKIS</text></g>
<g transform="translate(615 995)"><rect x="-4" y="-2" width="8" height="4" fill="#0000b0"/><text transform="rotate(-90)" x="5" y="3">WXKB</text></g>
<g transform="translate(437 989)"><rect x="-4" y="-2" width="8" height="4" fill="#0000b0"/><text transform="rotate(-90)" x="5" y="3">WMMO</text></g>
<g transform="translate(579 999)"><rect x="-4" y="-2" width="8" height="4" fill="#0000b0"/><text transform="rotate(-90)" x="5" y="3">WJCO</text></g>
<g transform="translate(565 992)"><rect x="-4" y="-2" width="8" height="4" fill="#0000b0"/><text transform="rotate(-90)" x="5" y="3">WHPT</text></g>
<g transform="translate(494 1000)"><rect x="-4" y="-2" width="8" height="4" fill="#0000b0"/><text transform="rotate(-90)" x="5" y="3">W263AH</text></g>
<g transform="translate(508 1012)"><rect x="-4" y="-2" width="8" height="4" fill="#0000b0"/><text transform="rotate(-90)" x="5" y="3">W265BY</text></g>
<g transform="translate(245 1012)"><rect x="-4" y="-2" width="8" height="4" fill="#0000b0"/><text transform="rotate(-90)" x="5" y="3">WBCF</text></g>
<g transform="translate(730 1000)"><rect x="-4" y="-2" width="8" height="4" fill="#0000b0"/><text transform="rotate(-90)" x="5" y="3">WXCL</text></g>
<g transform="translate(748 985)"><rect x="-4" y="-2" width="8" height="4" fill="#0000b0"/><text transform="rotate(-90)" x="5" y="3">WMGF</text></g>
</g>
<g font-family="Liberation Sans" font-size="9.5" fill="#1515d8" opacity="0.45">
<g transform="translate(403 966.2)"><rect x="-4" y="-2" width="8" height="4" fill="#0000b0"/><text transform="rotate(-90)" x="5" y="3">WRMF</text></g>
<g transform="translate(694 968.3)"><rect x="-4" y="-2" width="8" height="4" fill="#0000b0"/><text transform="rotate(-90)" x="5" y="3">WAFC-FM</text></g>
<g transform="translate(630 968.3)"><rect x="-4" y="-2" width="8" height="4" fill="#0000b0"/><text transform="rotate(-90)" x="5" y="3">WEAT-FM</text></g>
<g transform="translate(275 971.5)"><rect x="-4" y="-2" width="8" height="4" fill="#0000b0"/><text transform="rotate(-90)" x="5" y="3">W232AZ</text></g>
<g transform="translate(545 980.2)"><rect x="-4" y="-2" width="8" height="4" fill="#0000b0"/><text transform="rotate(-90)" x="5" y="3">WJHM</text></g>
<g transform="translate(233 980)"><rect x="-4" y="-2" width="8" height="4" fill="#0000b0"/><text transform="rotate(-90)" x="5" y="3">WGRV-LP</text></g>
<g transform="translate(53 983)"><rect x="-4" y="-2" width="8" height="4" fill="#0000b0"/><text transform="rotate(-90)" x="5" y="3">WLAZ</text></g>
<g transform="translate(17 975.3)"><rect x="-4" y="-2" width="8" height="4" fill="#0000b0"/><text transform="rotate(-90)" x="5" y="3">WAYF</text></g>
<g transform="translate(715 983.4)"><rect x="-4" y="-2" width="8" height="4" fill="#0000b0"/><text transform="rotate(-90)" x="5" y="3">WXXL</text></g>
</g>
</svg>
</body></html>
